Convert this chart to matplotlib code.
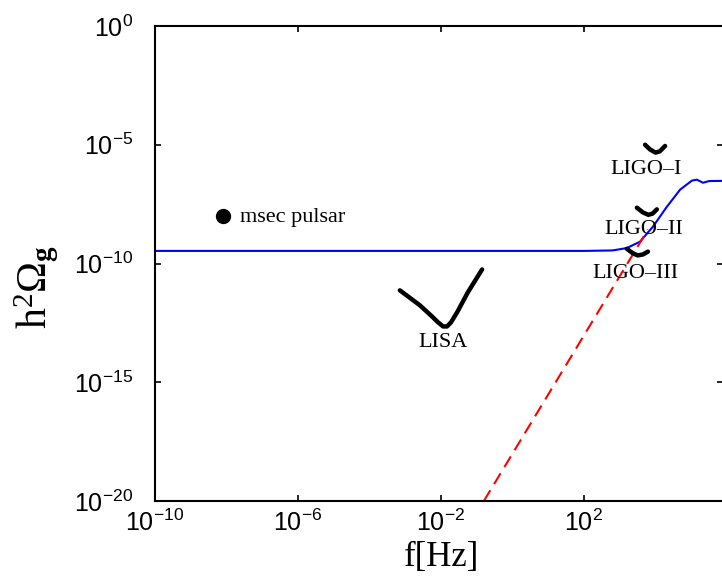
import matplotlib
matplotlib.use('Agg')
import matplotlib.pyplot as plt
import numpy as np

plt.rcParams['mathtext.fontset'] = 'custom'
plt.rcParams['mathtext.rm'] = 'Liberation Serif'
plt.rcParams['mathtext.it'] = 'Liberation Serif:italic'
plt.rcParams['mathtext.bf'] = 'Liberation Serif:bold'

# Data (log10 of frequency [Hz] and of h^2 Omega_g)
blue_logf = [-10.0, 2.0, 2.8, 3.2, 3.57, 3.93, 4.32, 4.69, 5.02, 5.16, 5.33, 5.5, 5.9]
blue_logo = [-9.47, -9.47, -9.45, -9.35, -9.08, -8.45, -7.61, -6.89, -6.51, -6.47, -6.60, -6.53, -6.52]

red_logf = [-0.80, 3.79]
red_logo = [-20.0, -8.57]

lisa_logf = [-3.15, -2.59, -2.25, -2.08, -1.94, -1.83, -1.72, -1.55, -1.25, -0.85]
lisa_logo = [-11.13, -11.76, -12.23, -12.48, -12.65, -12.65, -12.48, -12.06, -11.22, -10.25]

ligo1_logf = [3.71, 3.85, 4.0, 4.12, 4.27]
ligo1_logo = [-5.0, -5.2, -5.33, -5.28, -5.05]
ligo2_logf = [3.48, 3.65, 3.8, 3.92, 4.04]
ligo2_logo = [-7.65, -7.85, -7.95, -7.9, -7.72]
ligo3_logf = [3.2, 3.35, 3.5, 3.65, 3.79]
ligo3_logo = [-9.38, -9.55, -9.66, -9.62, -9.5]

pulsar_logf = -8.10
pulsar_logo = -7.98

labels = ['msec pulsar', 'LISA', 'LIGO\u2013I', 'LIGO\u2013II', 'LIGO\u2013III']
label_logf = [-7.62, -1.94, 3.74, 3.66, 3.44]
label_logo = [-8.05, -13.32, -6.03, -8.55, -10.4]
label_ha = ['left', 'center', 'center', 'center', 'center']

xticks = [1e-10, 1e-6, 1e-2, 1e2]
yticks = [1e0, 1e-5, 1e-10, 1e-15, 1e-20]


def p(v):
    return 10.0 ** np.asarray(v)


fig = plt.figure(figsize=(7.22, 5.83), dpi=100)
ax = fig.add_axes([155 / 722, 82 / 583, 568 / 722, 475 / 583])

ax.plot(p(blue_logf), p(blue_logo), color='#0000ff', linewidth=1.5)
ax.plot(p(red_logf), p(red_logo), color='#ff0000', linewidth=1.5, dashes=(6, 3.5))
for lf, lo in [(lisa_logf, lisa_logo), (ligo1_logf, ligo1_logo),
               (ligo2_logf, ligo2_logo), (ligo3_logf, ligo3_logo)]:
    ax.plot(p(lf), p(lo), color='black', linewidth=3.2,
            solid_capstyle='round', solid_joinstyle='round')
ax.plot(p(pulsar_logf), p(pulsar_logo), 'o', color='black', markersize=10)

for t, lf, lo, ha in zip(labels, label_logf, label_logo, label_ha):
    ax.text(10 ** lf, 10 ** lo, t, ha=ha, va='center', fontsize=16,
            family='Liberation Serif')

ax.set_xscale('log')
ax.set_yscale('log')
ax.set_xlim(1e-10, 10 ** 5.89)
ax.set_ylim(1e-20, 1e0)
ax.set_xticks(xticks)
ax.set_yticks(yticks)
ax.minorticks_off()
ax.tick_params(which='major', direction='in', length=4.5, width=1.2,
               top=True, right=True, labelsize=18)
ax.tick_params(axis='x', pad=6)
ax.tick_params(axis='y', pad=16)
for lab in ax.get_xticklabels() + ax.get_yticklabels():
    lab.set_family('Liberation Sans')
for s in ax.spines.values():
    s.set_linewidth(1.5)

ax.set_xlabel('f[Hz]', fontsize=25, family='Liberation Serif')
ax.xaxis.set_label_coords(0.504, -0.085)
ax.set_ylabel(r'$\mathrm{h}^{2}\Omega_{\mathbf{g}}$', fontsize=30)
ax.yaxis.set_label_coords(-0.165, 0.45)

plt.savefig('out.png', dpi=100)
